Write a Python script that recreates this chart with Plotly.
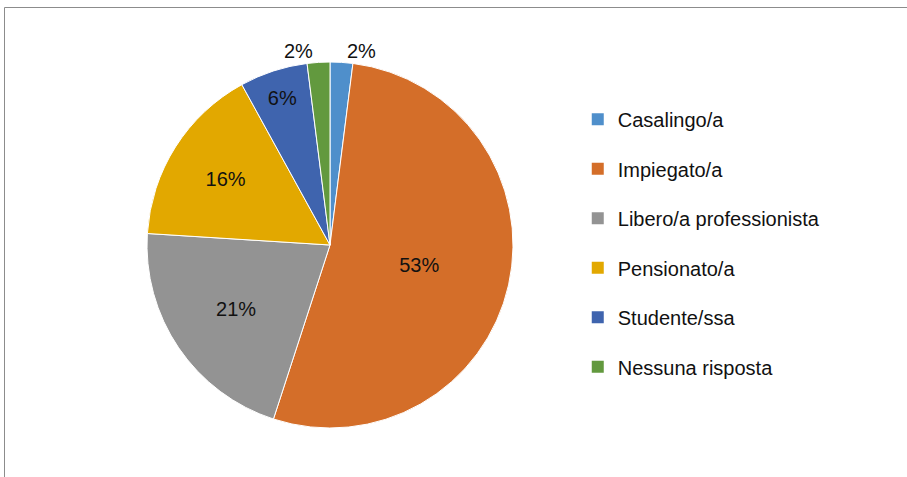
import plotly.graph_objects as go

# Data
categories = ["Casalingo/a", "Impiegato/a", "Libero/a professionista",
              "Pensionato/a", "Studente/ssa", "Nessuna risposta"]
percentages = [2, 53, 21, 16, 6, 2]
colors = ["#4f8fcb", "#d46e29", "#939393", "#e2a800", "#3f64ae", "#62993e"]
text_pos = ["outside", "inside", "inside", "inside", "inside", "outside"]

font_family = "Liberation Sans, Arial, sans-serif"

fig = go.Figure()

fig.add_trace(go.Pie(
    labels=categories,
    values=percentages,
    sort=False,
    direction="clockwise",
    rotation=0,
    marker=dict(colors=colors, line=dict(color="white", width=1)),
    texttemplate="%{value}%",
    textposition=text_pos,
    insidetextorientation="horizontal",
    textfont=dict(family=font_family, size=20, color="#111111"),
    showlegend=False,
    domain=dict(x=[147 / 907, 513 / 907], y=[49 / 477, 415 / 477]),
    hoverinfo="label+percent",
))

# legend entries (square swatches)
for name, c in zip(categories, colors):
    fig.add_trace(go.Scatter(
        x=[None], y=[None], mode="markers", name=name, legendgroup=name,
        marker=dict(symbol="square", size=10, color=c),
    ))

fig.update_layout(
    width=907, height=477,
    margin=dict(l=0, r=0, t=0, b=0),
    paper_bgcolor="white", plot_bgcolor="white",
    xaxis=dict(visible=False), yaxis=dict(visible=False),
    legend=dict(
        x=0.637, y=0.791, xanchor="left", yanchor="top",
        font=dict(family=font_family, size=20, color="#111111"),
        tracegroupgap=20.5, itemsizing="constant",
        bgcolor="rgba(0,0,0,0)",
    ),
    shapes=[dict(type="rect", xref="paper", yref="paper",
                 x0=4.5 / 907, x1=1.05, y0=-0.05, y1=1 - 7.5 / 477,
                 line=dict(color="#8c8c8c", width=1))],
)

fig.write_html("out.html", config={"displayModeBar": False},
               post_script="document.body.style.margin='0';")
